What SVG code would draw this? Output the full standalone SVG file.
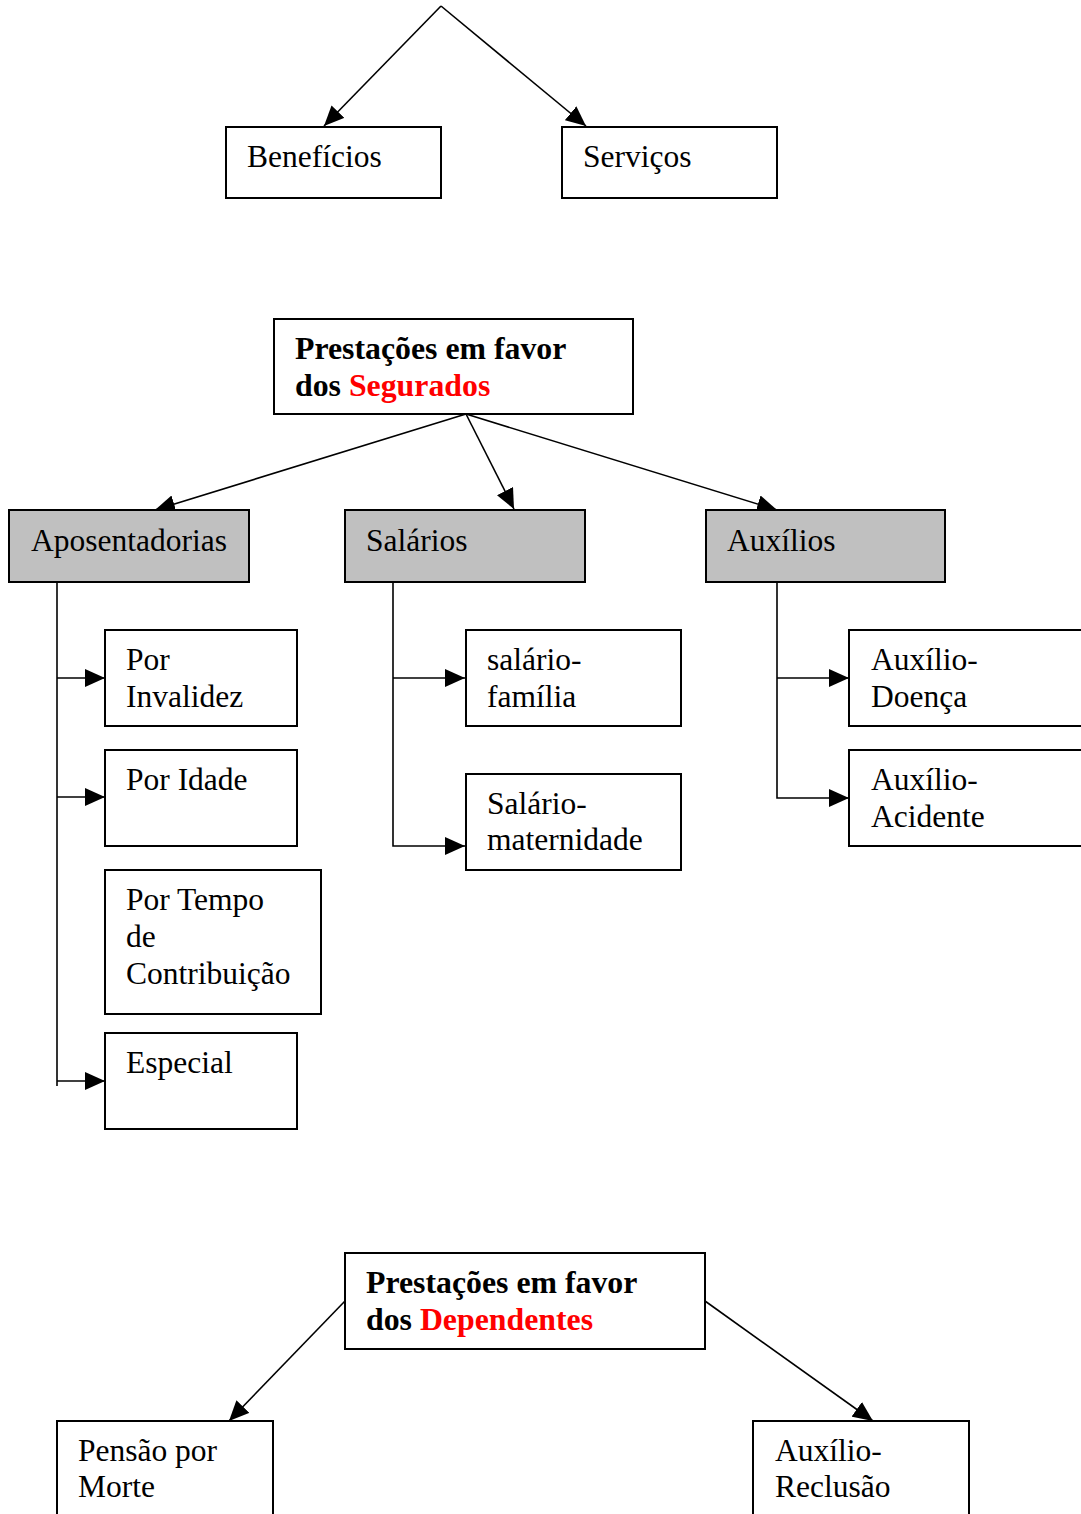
<svg xmlns="http://www.w3.org/2000/svg" width="1081" height="1514" viewBox="0 0 1081 1514">
<style>
.box{fill:#fff;stroke:#000;stroke-width:2}
.gray{fill:#c0c0c0;stroke:#000;stroke-width:2}
text{font-family:"Liberation Serif","Times New Roman",serif;font-size:31.5px;fill:#000}
.b{font-weight:bold;font-size:31.8px}
.red{fill:#ff0000}
.c{fill:none;stroke:#000;stroke-width:1.6}
</style>
<defs>
<marker id="ah" viewBox="0 0 20 18" refX="20" refY="9" markerWidth="20" markerHeight="18" orient="auto" markerUnits="userSpaceOnUse">
<path d="M0,0 L20,9 L0,18 z" fill="#000"/>
</marker>
</defs>
<rect width="1081" height="1514" fill="#fff"/>
<g id="connectors">
<path class="c" d="M441,6 L324,126" marker-end="url(#ah)"/>
<path class="c" d="M441,6 L586,126" marker-end="url(#ah)"/>
<path class="c" d="M466,414 L155,510" marker-end="url(#ah)"/>
<path class="c" d="M466,414 L514,509" marker-end="url(#ah)"/>
<path class="c" d="M466,414 L777,510" marker-end="url(#ah)"/>
<path class="c" d="M57,582 L57,1086"/>
<path class="c" d="M57,678 L105,678" marker-end="url(#ah)"/>
<path class="c" d="M57,797 L105,797" marker-end="url(#ah)"/>
<path class="c" d="M57,1081 L105,1081" marker-end="url(#ah)"/>
<path class="c" d="M393,582 L393,846 L465,846" marker-end="url(#ah)"/>
<path class="c" d="M393,678 L465,678" marker-end="url(#ah)"/>
<path class="c" d="M777,582 L777,798 L849,798" marker-end="url(#ah)"/>
<path class="c" d="M777,678 L849,678" marker-end="url(#ah)"/>
<path class="c" d="M345,1301 L229,1421" marker-end="url(#ah)"/>
<path class="c" d="M705,1301 L873,1421" marker-end="url(#ah)"/>
</g>
<g id="beneficios"><rect class="box" x="226" y="127" width="215" height="71"/><text x="247" y="167">Benefícios</text></g>
<g id="servicos"><rect class="box" x="562" y="127" width="215" height="71"/><text x="583" y="167">Serviços</text></g>
<g id="segurados"><rect class="box" x="274" y="319" width="359" height="95"/><text class="b" x="295" y="359">Prestações em favor</text><text class="b" x="295" y="396">dos <tspan class="red">Segurados</tspan></text></g>
<g id="aposentadorias"><rect class="gray" x="9" y="510" width="240" height="72"/><text x="31" y="551">Aposentadorias</text></g>
<g id="salarios"><rect class="gray" x="345" y="510" width="240" height="72"/><text x="366" y="551">Salários</text></g>
<g id="auxilios"><rect class="gray" x="706" y="510" width="239" height="72"/><text x="727" y="551">Auxílios</text></g>
<g id="invalidez"><rect class="box" x="105" y="630" width="192" height="96"/><text x="126" y="670">Por</text><text x="126" y="707">Invalidez</text></g>
<g id="idade"><rect class="box" x="105" y="750" width="192" height="96"/><text x="126" y="790">Por Idade</text></g>
<g id="tempo"><rect class="box" x="105" y="870" width="216" height="144"/><text x="126" y="910">Por Tempo</text><text x="126" y="947">de</text><text x="126" y="984">Contribuição</text></g>
<g id="especial"><rect class="box" x="105" y="1033" width="192" height="96"/><text x="126" y="1073">Especial</text></g>
<g id="salario-familia"><rect class="box" x="466" y="630" width="215" height="96"/><text x="487" y="670">salário-</text><text x="487" y="707">família</text></g>
<g id="salario-maternidade"><rect class="box" x="466" y="774" width="215" height="96"/><text x="487" y="814">Salário-</text><text x="487" y="850">maternidade</text></g>
<g id="auxilio-doenca"><rect class="box" x="849" y="630" width="240" height="96"/><text x="871" y="670">Auxílio-</text><text x="871" y="707">Doença</text></g>
<g id="auxilio-acidente"><rect class="box" x="849" y="750" width="240" height="96"/><text x="871" y="790">Auxílio-</text><text x="871" y="827">Acidente</text></g>
<g id="dependentes"><rect class="box" x="345" y="1253" width="360" height="96"/><text class="b" x="366" y="1293">Prestações em favor</text><text class="b" x="366" y="1330">dos <tspan class="red">Dependentes</tspan></text></g>
<g id="pensao"><rect class="box" x="57" y="1421" width="216" height="110"/><text x="78" y="1461">Pensão por</text><text x="78" y="1497">Morte</text></g>
<g id="reclusao"><rect class="box" x="753" y="1421" width="216" height="110"/><text x="775" y="1461">Auxílio-</text><text x="775" y="1497">Reclusão</text></g>
</svg>
